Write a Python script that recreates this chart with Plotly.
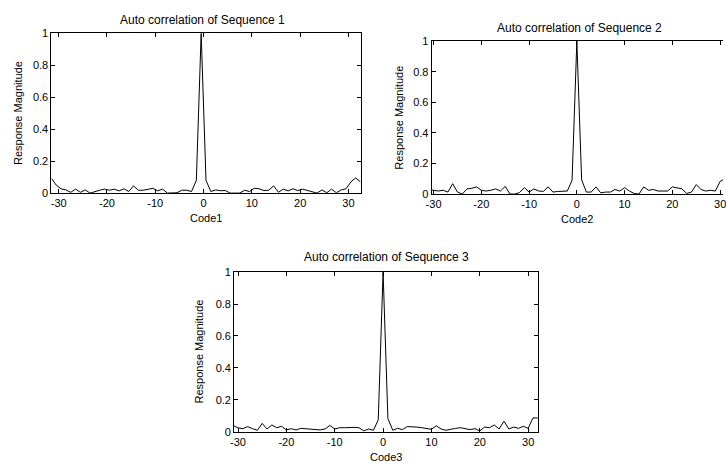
import plotly.graph_objects as go

# ---------------- data ----------------
lag1 = [-31.5 + i for i in range(65)]
seq1 = [0.092, 0.05, 0.027, 0.02, 0.005, 0.025, 0.005, 0.02, 0.0, 0.01,
        0.018, 0.025, 0.018, 0.025, 0.014, 0.027, 0.01, 0.045, 0.018, 0.018,
        0.024, 0.03, 0.014, 0.025, 0.0, 0.0, 0.002, 0.018, 0.018, 0.01,
        0.08, 1.0, 0.08,
        0.01, 0.02, 0.015, 0.016, 0.0, 0.0, 0.0, 0.018, 0.01, 0.03,
        0.027, 0.016, 0.018, 0.045, 0.005, 0.025, 0.014, 0.027, 0.016, 0.025,
        0.016, 0.01, 0.0, 0.02, 0.002, 0.025, 0.002, 0.02, 0.027, 0.07,
        0.095, 0.07]

lag2 = list(range(-31, 33))
seq2 = [0.03, 0.025, 0.02, 0.025, 0.013, 0.068, 0.013, 0.0, 0.034, 0.038,
        0.047, 0.025, 0.02, 0.025, 0.034, 0.02, 0.05, 0.0, 0.0, 0.01,
        0.042, 0.013, 0.034, 0.02, 0.018, 0.047, 0.013, 0.017, 0.02, 0.02,
        0.09, 1.0, 0.093,
        0.013, 0.013, 0.047, 0.008, 0.013, 0.013, 0.03, 0.02, 0.042,
        0.02, 0.004, 0.0, 0.047, 0.025, 0.03, 0.02, 0.02, 0.02, 0.047,
        0.04, 0.034, 0.004, 0.013, 0.062, 0.03, 0.02, 0.025, 0.02, 0.083,
        0.1, 0.1]

lag3 = list(range(-31, 33))
seq3 = [0.04, 0.025, 0.02, 0.033, 0.02, 0.01, 0.053, 0.018, 0.043, 0.026,
        0.035, 0.012, 0.02, 0.012, 0.022, 0.02, 0.015, 0.012, 0.012, 0.018,
        0.04, 0.018, 0.026, 0.026, 0.028, 0.028, 0.026, 0.006, 0.018, 0.01,
        0.075, 1.0, 0.083,
        0.01, 0.022, 0.014, 0.033, 0.033, 0.03, 0.026, 0.022, 0.016, 0.038,
        0.018, 0.01, 0.018, 0.022, 0.026, 0.018, 0.014, 0.02, 0.006, 0.03,
        0.026, 0.043, 0.018, 0.067, 0.018, 0.03, 0.022, 0.035, 0.022, 0.087,
        0.087]

titles = ["Auto correlation of Sequence 1", "Auto correlation of Sequence 2",
          "Auto correlation of Sequence 3"]
xlabels = ["Code1", "Code2", "Code3"]
ylabel = "Response Magnitude"
xtick_vals = [-30, -20, -10, 0, 10, 20, 30]
xtick_text = ["-30", "-20", "-10", "0", "10", "20", "30"]
ytick_vals = [0, 0.2, 0.4, 0.6, 0.8, 1]
ytick_text = ["0", "0.2", "0.4", "0.6", "0.8", "1"]

# ---------------- layout geometry (pixels) ----------------
W, H = 726, 471
FONT = "Liberation Sans, Arial, sans-serif"

boxes = [  # left, right, top, bottom, xrange, right spine
    (46, 359, 28, 192, [-31.5, 32.5], True),
    (431, 726, 36, 193, [-30.4, 30.6], False),
    (231, 539, 273, 437, [-30.8, 32.1], True),
]

fig = go.Figure()
series = [(lag1, seq1), (lag2, seq2), (lag3, seq3)]

layout = dict(width=W, height=H, margin=dict(l=0, r=0, t=0, b=0),
              paper_bgcolor="white", plot_bgcolor="white", showlegend=False,
              font=dict(family=FONT, size=11, color="black"))

for i, ((x, y), (l, r, t, b, xr, rspine)) in enumerate(zip(series, boxes)):
    sfx = "" if i == 0 else str(i + 1)
    fig.add_trace(go.Scatter(x=x, y=y, mode="lines",
                             line=dict(color="black", width=1),
                             xaxis="x" + sfx, yaxis="y" + sfx,
                             hoverinfo="skip"))
    layout["xaxis" + sfx] = dict(
        domain=[l / W, r / W], anchor="y" + sfx, range=xr,
        tickvals=xtick_vals, ticktext=xtick_text, ticks="inside", ticklen=4,
        tickcolor="black", showline=True, linecolor="black", linewidth=1,
        mirror="ticks", showgrid=False, zeroline=False,
        ticklabeloverflow="allow",
        tickfont=dict(size=11, family=FONT, color="black"))
    layout["yaxis" + sfx] = dict(
        domain=[1 - b / H, 1 - t / H], anchor="x" + sfx, range=[0, 1],
        tickvals=ytick_vals, ticktext=ytick_text, ticks="inside", ticklen=4,
        tickcolor="black", showline=True, linecolor="black", linewidth=1,
        mirror="ticks" if rspine else False, showgrid=False, zeroline=False,
        tickfont=dict(size=11, family=FONT, color="black"))

annotations = []
title_pos = [(199, 14), (581, 23), (385.5, 258)]
xlab_pos = [(203, 218), (578, 219), (385, 463)]
ylab_pos = [(12, 110), (398, 114.5), (195, 355)]
for k in range(3):
    tx, ty = title_pos[k]
    annotations.append(dict(text=titles[k], x=tx / W, y=1 - ty / H,
                            xref="paper", yref="paper", showarrow=False,
                            xanchor="center", yanchor="middle",
                            font=dict(size=12, family=FONT, color="black")))
    lx, ly = xlab_pos[k]
    annotations.append(dict(text=xlabels[k], x=lx / W, y=1 - ly / H,
                            xref="paper", yref="paper", showarrow=False,
                            xanchor="center", yanchor="middle",
                            font=dict(size=11, family=FONT, color="black")))
    yx, yy = ylab_pos[k]
    annotations.append(dict(text=ylabel, x=yx / W, y=1 - yy / H,
                            xref="paper", yref="paper", showarrow=False,
                            textangle=-90, xanchor="center", yanchor="middle",
                            font=dict(size=11, family=FONT, color="black")))
layout["annotations"] = annotations

fig.update_layout(**layout)
fig.write_html("out.html")
